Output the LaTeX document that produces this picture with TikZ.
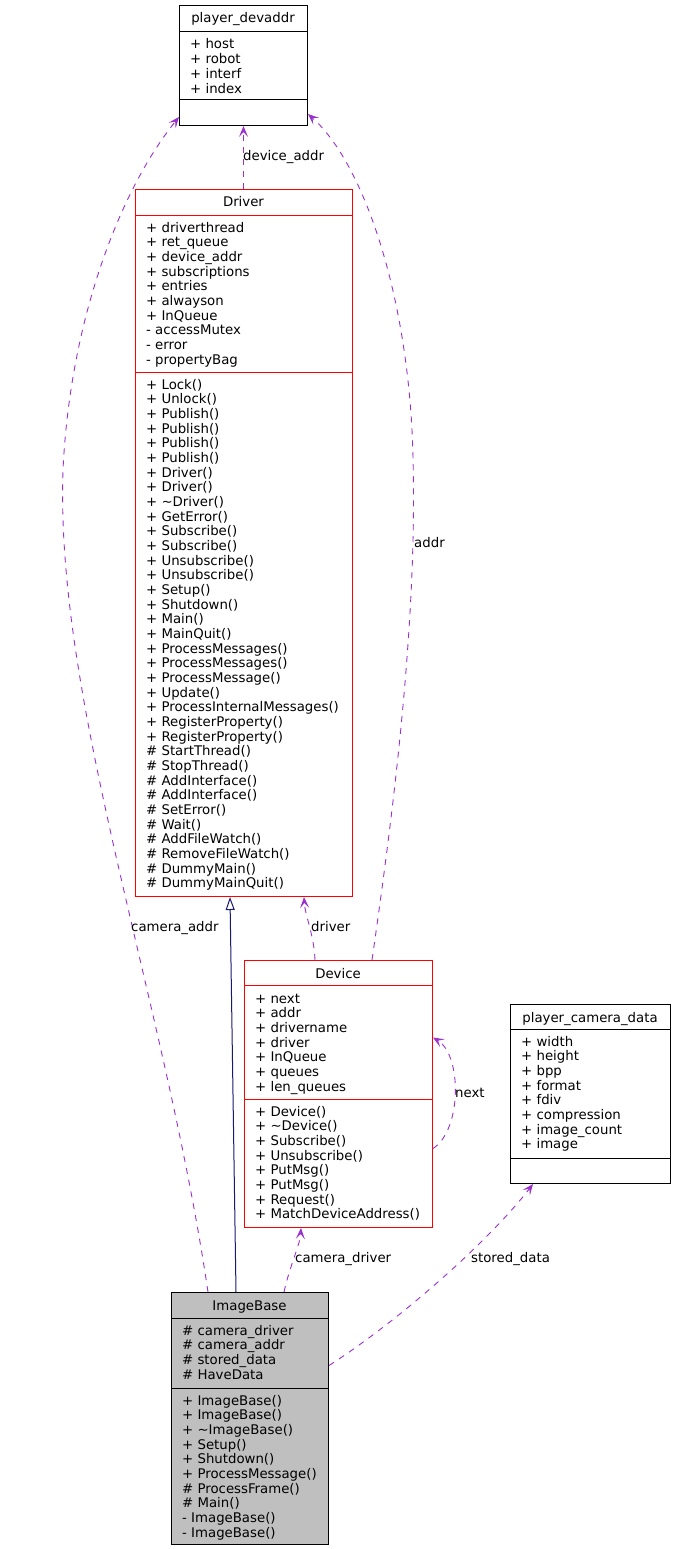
\documentclass[tikz,border=0pt]{standalone}
\usepackage{fontspec}
\setmainfont{DejaVu Sans}
\usetikzlibrary{arrows.meta,calc}
\definecolor{orchid}{HTML}{9A32CD}
\definecolor{midblue}{HTML}{191970}
\definecolor{greyfill}{HTML}{BFBFBF}
\newcommand\umlfont{\fontsize{13.3}{14.67}\selectfont}
\tikzset{
  box/.style={draw=black, line width=1pt, inner sep=0pt, anchor=north west},
  redbox/.style={box, draw=red},
  sepline/.style={line width=1pt},
  txt/.style={inner sep=0pt, anchor=base west, font=\umlfont},
  ttl/.style={inner sep=0pt, anchor=base, font=\umlfont},
  lbl/.style={inner sep=0pt, anchor=base west, font=\umlfont},
  uses/.style={draw=orchid, line width=0.9pt, dash pattern=on 6pt off 6pt,
    -{Stealth[length=11pt,width=9pt,inset=5pt,fill=orchid]}},
  inherit/.style={draw=midblue, line width=1pt,
    -{Triangle[open,length=13pt,width=9pt,fill=white]}},
}
\begin{document}
\begin{tikzpicture}[x=1pt,y=-1pt]
\useasboundingbox (0,0) rectangle (675,1549);

% ---------- player_devaddr ----------
\node[box, minimum width=128pt, minimum height=120pt] (devaddr) at (179,5) {};
\draw[sepline] (179,32) -- (307,32);
\draw[sepline] (179,100) -- (307,100);
\node[ttl] (devaddr-t) at (243,23) {player\_devaddr};
\foreach \t [count=\i from 0] in {+ host,+ robot,+ interf,+ index}
  \node[txt] (devaddr-a\i) at (190,{49+14.67*\i}) {\t};

% ---------- Driver ----------
\node[redbox, minimum width=217pt, minimum height=707pt] (Driver) at (135,189) {};
\draw[sepline, red] (135,215) -- (352,215);
\draw[sepline, red] (135,372) -- (352,372);
\node[ttl] (Driver-t) at (243.5,207) {Driver};
\foreach \t [count=\i from 0] in {+ driverthread,+ ret\_queue,+ device\_addr,+ subscriptions,+ entries,+ alwayson,+ InQueue,- accessMutex,- error,- propertyBag}
  \node[txt] (Driver-a\i) at (146,{232+14.67*\i}) {\t};
\foreach \t [count=\i from 0] in {+ Lock(),+ Unlock(),+ Publish(),+ Publish(),+ Publish(),+ Publish(),+ Driver(),+ Driver(),+ \textasciitilde Driver(),+ GetError(),+ Subscribe(),+ Subscribe(),+ Unsubscribe(),+ Unsubscribe(),+ Setup(),+ Shutdown(),+ Main(),+ MainQuit(),+ ProcessMessages(),+ ProcessMessages(),+ ProcessMessage(),+ Update(),+ ProcessInternalMessages(),+ RegisterProperty(),+ RegisterProperty(),\# StartThread(),\# StopThread(),\# AddInterface(),\# AddInterface(),\# SetError(),\# Wait(),\# AddFileWatch(),\# RemoveFileWatch(),\# DummyMain(),\# DummyMainQuit()}
  \node[txt] (Driver-m\i) at (146,{389+14.67*\i}) {\t};

% ---------- Device ----------
\node[redbox, minimum width=188pt, minimum height=267pt] (Device) at (244,960) {};
\draw[sepline, red] (244,985) -- (432,985);
\draw[sepline, red] (244,1099) -- (432,1099);
\node[ttl] (Device-t) at (338,978) {Device};
\foreach \t [count=\i from 0] in {+ next,+ addr,+ drivername,+ driver,+ InQueue,+ queues,+ len\_queues}
  \node[txt] (Device-a\i) at (255,{1003+14.67*\i}) {\t};
\foreach \t [count=\i from 0] in {+ Device(),+ \textasciitilde Device(),+ Subscribe(),+ Unsubscribe(),+ PutMsg(),+ PutMsg(),+ Request(),+ MatchDeviceAddress()}
  \node[txt] (Device-m\i) at (255,{1116+14.67*\i}) {\t};

% ---------- player_camera_data ----------
\node[box, minimum width=160pt, minimum height=179pt] (camdata) at (510,1004) {};
\draw[sepline] (510,1029) -- (670,1029);
\draw[sepline] (510,1158) -- (670,1158);
\node[ttl] (camdata-t) at (590,1022) {player\_camera\_data};
\foreach \t [count=\i from 0] in {+ width,+ height,+ bpp,+ format,+ fdiv,+ compression,+ image\_count,+ image}
  \node[txt] (camdata-a\i) at (521,{1046+14.67*\i}) {\t};

% ---------- ImageBase ----------
\node[box, fill=greyfill, minimum width=157pt, minimum height=252pt] (ImageBase) at (171,1292) {};
\draw[sepline] (171,1318) -- (328,1318);
\draw[sepline] (171,1388) -- (328,1388);
\node[ttl] (ImageBase-t) at (249.5,1310) {ImageBase};
\foreach \t [count=\i from 0] in {\# camera\_driver,\# camera\_addr,\# stored\_data,\# HaveData}
  \node[txt] (ImageBase-a\i) at (182,{1335+14.67*\i}) {\t};
\foreach \t [count=\i from 0] in {+ ImageBase(),+ ImageBase(),+ \textasciitilde ImageBase(),+ Setup(),+ Shutdown(),+ ProcessMessage(),\# ProcessFrame(),\# Main(),- ImageBase(),- ImageBase()}
  \node[txt] (ImageBase-m\i) at (182,{1405+14.67*\i}) {\t};

% ---------- connectors ----------
% device_addr
\draw[uses] (Driver.north -| devaddr.south) -- (devaddr.south);
\node[lbl] (l-devaddr) at (243,161) {device\_addr};

% addr
\draw[uses] ([xshift=128pt]Device.north west)
  .. controls (395,800) and (420,600) .. (412,430)
  .. controls (404,280) and (360,160) .. ([yshift=12pt]devaddr.south east);
\node[lbl] (l-addr) at (414,547) {addr};

% camera_addr
\draw[uses] ([xshift=37pt]ImageBase.north west)
  .. controls (165,1000) and (55,700) .. (63,470)
  .. controls (70,320) and (120,190) .. ([yshift=9pt]devaddr.south west);
\node[lbl] (l-camaddr) at (131,931) {camera\_addr};

% driver
\draw[uses] ([xshift=71pt]Device.north west)
  .. controls (314,935) and (305,915) .. ([xshift=169pt]Driver.south west);
\node[lbl] (l-driver) at (311,931) {driver};

% inheritance
\draw[inherit] ([xshift=65pt]ImageBase.north west) -- ([xshift=95pt]Driver.south west);

% camera_driver
\draw[uses] ([xshift=113pt]ImageBase.north west)
  .. controls (290,1265) and (300,1245) .. ([xshift=57pt]Device.south west);
\node[lbl] (l-camdriver) at (295,1262) {camera\_driver};

% stored_data
\draw[uses] ([yshift=53pt]ImageBase.east)
  .. controls (400,1320) and (490,1240) .. ([xshift=23pt]camdata.south west);
\node[lbl] (l-stored) at (471,1262) {stored\_data};

% next (self loop)
\draw[uses] ([yshift=-54.5pt]Device.east)
  .. controls (462,1130) and (462,1055) .. ([yshift=56.5pt]Device.east);
\node[lbl] (l-next) at (455,1097) {next};
\end{tikzpicture}
\end{document}
